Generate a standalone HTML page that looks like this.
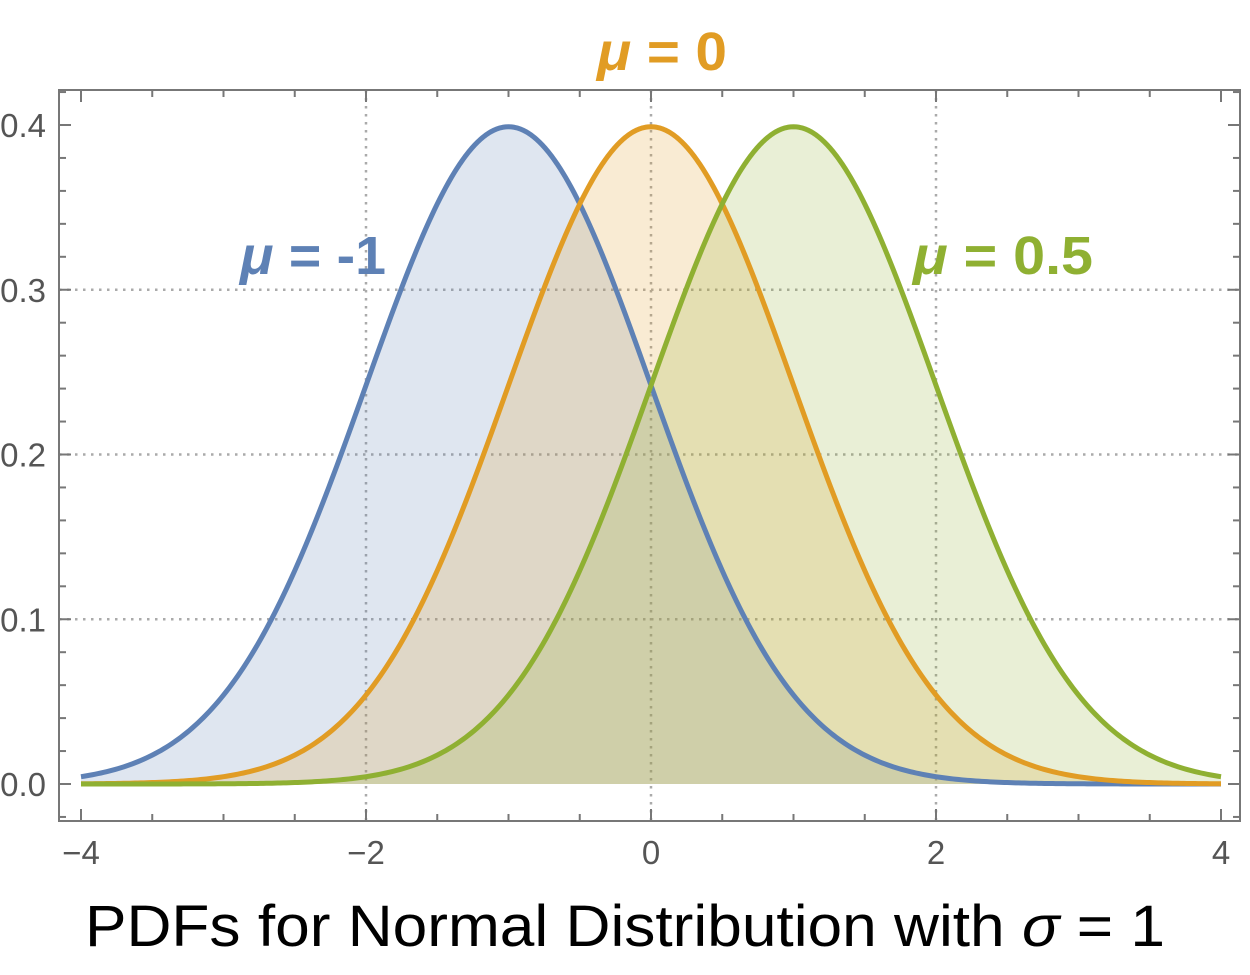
<!DOCTYPE html>
<html><head><meta charset="utf-8"><style>
body{margin:0;background:#fff;}
svg text{font-family:"Liberation Sans",sans-serif;}
</style></head><body>
<svg id="chart" width="1250" height="970" xmlns="http://www.w3.org/2000/svg">
<g id="grid"></g>
<g id="fills"></g>
<g id="lines"></g>
<g id="frame"></g>
<text x="597" y="70" textLength="130" lengthAdjust="spacingAndGlyphs" font-size="54" font-weight="bold" fill="#e19c24"><tspan font-style="italic">μ</tspan> = 0</text>
<text x="240" y="274" textLength="146" lengthAdjust="spacingAndGlyphs" font-size="54" font-weight="bold" fill="#5e81b5"><tspan font-style="italic">μ</tspan> = -1</text>
<text x="913" y="274" textLength="180" lengthAdjust="spacingAndGlyphs" font-size="54" font-weight="bold" fill="#8fb032"><tspan font-style="italic">μ</tspan> = 0.5</text>
<text x="85" y="946" textLength="1080" lengthAdjust="spacingAndGlyphs" font-size="58" fill="#000">PDFs for Normal Distribution with <tspan font-style="italic">σ</tspan> = 1</text>
</svg>
<script>
const means = [-1, 0, 1];
const sigma = 1;
const colors = ["#5e81b5", "#e19c24", "#8fb032"];
const xTicks = [-4, -2, 0, 2, 4];
const xTickLabels = ["\u22124", "\u22122", "0", "2", "4"];
const yTicks = [0, 0.1, 0.2, 0.3, 0.4];
const yTickLabels = ["0.0", "0.1", "0.2", "0.3", "0.4"];
const xMin = -4, xMax = 4;

const X = v => 651 + v * 142.5;
const Y = v => 784 - v * 1647.5;
const NS = "http://www.w3.org/2000/svg";
function mk(tag, attrs, parent){const e=document.createElementNS(NS,tag);for(const k in attrs)e.setAttribute(k,attrs[k]);parent.appendChild(e);return e;}
const L=59,R=1240,T=90,B=821;
const grid=document.getElementById('grid'), frame=document.getElementById('frame');
xTicks.forEach(t=>{ if(t===-4||t===4) return;
  const g=mk('line',{x1:X(t),x2:X(t),y1:T,y2:B,stroke:'#aaa','stroke-width':2.5,'stroke-dasharray':'2.5 5.5'},grid);
   });
yTicks.forEach(t=>{ if(t===0||t===0.4) return;
  const g=mk('line',{x1:L,x2:R,y1:Y(t),y2:Y(t),stroke:'#aaa','stroke-width':2.5,'stroke-dasharray':'2.5 5.5'},grid);
   });
const fills=document.getElementById('fills'), lines=document.getElementById('lines');
means.forEach((m,i)=>{
  let pts=[];
  for(let k=0;k<=400;k++){const x=xMin+(xMax-xMin)*k/400;const y=Math.exp(-0.5*((x-m)/sigma)**2)/(sigma*Math.sqrt(2*Math.PI));pts.push(X(x).toFixed(2)+','+Y(y).toFixed(2));}
  const f=mk('polygon',{points:X(xMin)+','+Y(0)+' '+pts.join(' ')+' '+X(xMax)+','+Y(0),fill:colors[i],'fill-opacity':0.2},fills);
   
  const p=mk('polyline',{points:pts.join(' '),fill:'none',stroke:colors[i],'stroke-width':5,'stroke-linejoin':'round'},lines);
   
});
const fr=mk('rect',{x:L,y:T,width:R-L,height:B-T,fill:'none',stroke:'#777','stroke-width':2},frame);
 
for(let v=-4;v<=4.001;v+=0.5){const maj=Math.abs(v%2)<1e-6;
  mk('line',{x1:X(v),x2:X(v),y1:B,y2:B-(maj?12:7),stroke:'#777','stroke-width':2},frame);
  mk('line',{x1:X(v),x2:X(v),y1:T,y2:T+(maj?12:7),stroke:'#777','stroke-width':2},frame);}
for(let k=-1;k<=21;k++){const v=k*0.02;const maj=k%5===0;
  mk('line',{x1:L,x2:L+(maj?12:7),y1:Y(v),y2:Y(v),stroke:'#777','stroke-width':2},frame);
  mk('line',{x1:R,x2:R-(maj?12:7),y1:Y(v),y2:Y(v),stroke:'#777','stroke-width':2},frame);}
xTicks.forEach((t,i)=>{const e=mk('text',{x:X(t),y:864,'text-anchor':'middle','font-size':33,fill:'#555'},frame);e.textContent=xTickLabels[i];
   });
yTicks.forEach((t,i)=>{const e=mk('text',{x:46,y:Y(t)+12,'text-anchor':'end','font-size':33,fill:'#555'},frame);e.textContent=yTickLabels[i];
   });
</script>
</body></html>
